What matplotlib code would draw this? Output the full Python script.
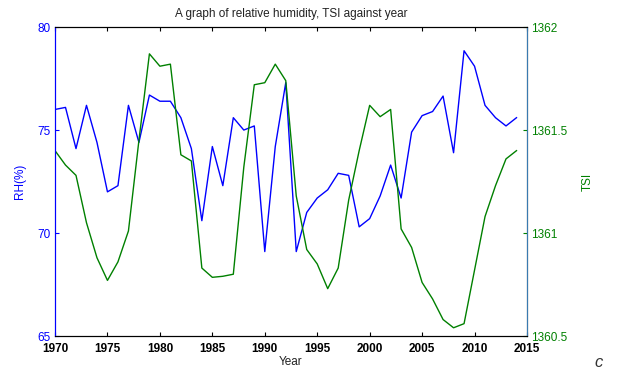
import matplotlib
matplotlib.use('Agg')
import matplotlib.pyplot as plt

plt.rcParams['font.family'] = ['Liberation Sans', 'DejaVu Sans']

years = list(range(1970, 2015))
rh = [76.0, 76.1, 74.1, 76.2, 74.4, 72.0, 72.3, 76.2, 74.4, 76.7,
      76.4, 76.4, 75.6, 74.1, 70.6, 74.2, 72.3, 75.6, 75.0, 75.2,
      69.1, 74.2, 77.3, 69.1, 71.0, 71.7, 72.1, 72.9, 72.8, 70.3,
      70.7, 71.8, 73.3, 71.7, 74.9, 75.7, 75.9, 76.65, 73.9, 78.85,
      78.1, 76.2, 75.6, 75.2, 75.6]
tsi = [1361.40, 1361.33, 1361.28, 1361.05, 1360.88, 1360.77, 1360.86, 1361.01, 1361.45, 1361.87,
       1361.81, 1361.82, 1361.38, 1361.35, 1360.83, 1360.785, 1360.79, 1360.80, 1361.32, 1361.72,
       1361.73, 1361.82, 1361.74, 1361.18, 1360.92, 1360.85, 1360.73, 1360.83, 1361.16, 1361.40,
       1361.62, 1361.565, 1361.60, 1361.02, 1360.93, 1360.76, 1360.68, 1360.58, 1360.54, 1360.56,
       1360.82, 1361.08, 1361.23, 1361.36, 1361.40]

xticks = list(range(1970, 2016, 5))
rh_ticks = [65, 70, 75, 80]
tsi_ticks = [1360.5, 1361, 1361.5, 1362]
tsi_labels = ['1360.5', '1361', '1361.5', '1362']

blue = (0, 0, 1)
green = (0, 0.5, 0)

fig = plt.figure(figsize=(6.21, 3.71), dpi=100)
ax = fig.add_axes([0.0886, 0.0943, 0.76, 0.8327])
ax2 = ax.twinx()

ax.plot(years, rh, color=blue, lw=1)
ax2.plot(years, tsi, color=green, lw=1)

ax.set_xlim(1970, 2015)
ax.set_ylim(65, 80)
ax2.set_ylim(1360.5, 1362)

ax.set_xticks(xticks)
ax.set_xticklabels([str(x) for x in xticks], fontsize=8.5, fontweight='bold', color='#111111')
ax.set_yticks(rh_ticks)
ax.set_yticklabels([str(v) for v in rh_ticks], fontsize=8.5, color=blue)
ax2.set_yticks(tsi_ticks)
ax2.set_yticklabels(tsi_labels, fontsize=8.5, color=green)

ax.tick_params(axis='x', direction='in', length=3, pad=5, top=True)
ax.tick_params(axis='y', direction='in', length=3, pad=3, colors=blue)
ax2.tick_params(axis='y', direction='in', length=3, pad=3, colors=green)
ax.tick_params(axis='x', colors='black')

ax.spines['left'].set_color(blue)
ax2.spines['left'].set_color(blue)
ax2.spines['right'].set_color('#3a7ab0')
for s in ['top', 'bottom']:
    ax.spines[s].set_color('black')
    ax2.spines[s].set_color('black')

ax.set_title('A graph of relative humidity, TSI against year', fontsize=8.5, color='#222222', pad=7)
ax.set_xlabel('Year', fontsize=8.5, color='#222222', labelpad=1)
ax.set_ylabel('RH(%)', fontsize=8.5, color=blue, labelpad=8)
ax2.set_ylabel('TSI', fontsize=8.5, color=green, labelpad=10)

fig.text(0.958, 0.012, 'c', fontsize=12, color='#333333', style='italic')

fig.savefig('out.png', dpi=100)
